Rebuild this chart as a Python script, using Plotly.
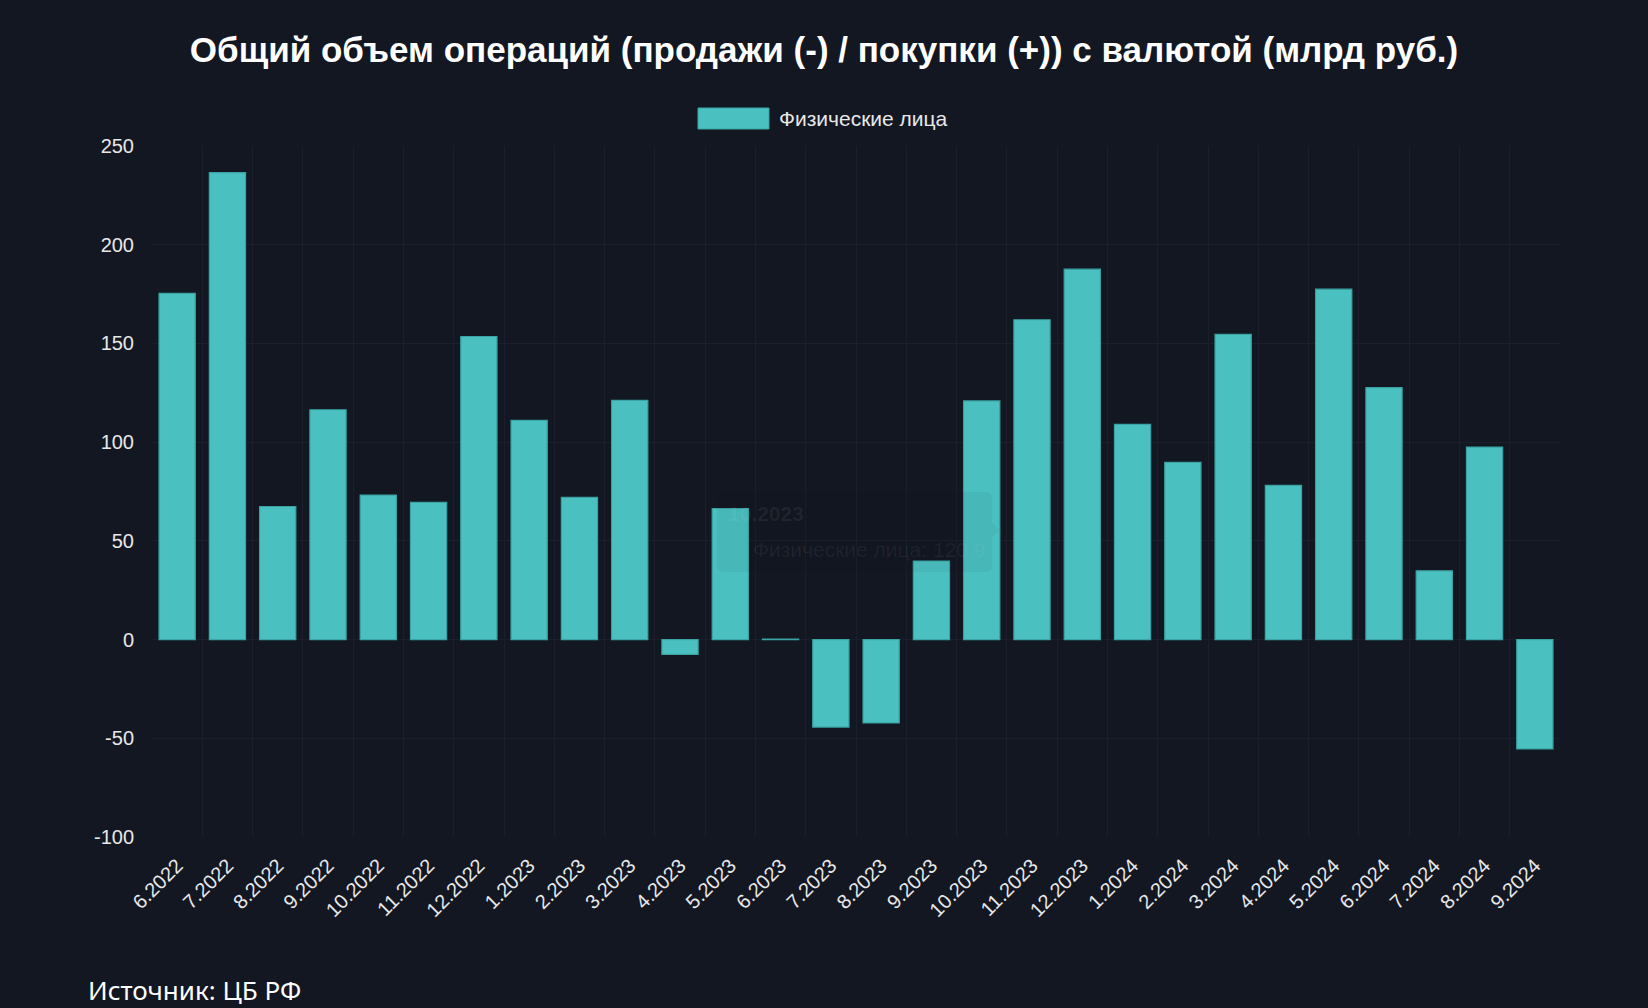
import plotly.graph_objects as go

months = ["6.2022", "7.2022", "8.2022", "9.2022", "10.2022", "11.2022", "12.2022",
          "1.2023", "2.2023", "3.2023", "4.2023", "5.2023", "6.2023", "7.2023",
          "8.2023", "9.2023", "10.2023", "11.2023", "12.2023", "1.2024", "2.2024",
          "3.2024", "4.2024", "5.2024", "6.2024", "7.2024", "8.2024", "9.2024"]
individuals = [175.4, 236.5, 67.4, 116.4, 73.2, 69.5, 153.5,
               111.0, 72.1, 121.2, -7.5, 66.4, 0.3, -44.3,
               -42.2, 39.8, 120.9, 162.0, 187.6, 109.0, 89.8,
               154.6, 78.1, 177.5, 127.6, 34.8, 97.5, -55.4]
y_ticks = [-100, -50, 0, 50, 100, 150, 200, 250]
y_tick_labels = ["-100", "-50", "0", "50", "100", "150", "200", "250"]
series_name = "Физические лица"
title_text = "Общий объем операций (продажи (-) / покупки (+)) с валютой (млрд руб.)"
source_text = "Источник: ЦБ РФ"
tip_month = "10.2023"
tip_value = 120.9

W, H = 1648, 1008
L, R, T, B = 152, 1560, 146, 837
BG = "#131722"
GRID = "#1b1f2b"
FILL = "#4bc0c0"
EDGE = "#3aa3a4"
TXT = "#e8e8e8"


def px(x):
    return (x - L) / (R - L)


def py(y):
    return (B - y) / (B - T)


fig = go.Figure()
fig.add_trace(go.Bar(
    x=months, y=individuals, name=series_name,
    marker=dict(color=FILL, line=dict(color=EDGE, width=1.2)),
    showlegend=False,
))

shapes = []
annotations = []

# legend (manual, wide box as in the reference)
shapes.append(dict(type="rect", xref="paper", yref="paper",
                   x0=px(698), x1=px(769), y0=py(129), y1=py(108),
                   fillcolor=FILL, line=dict(color=EDGE, width=1)))
annotations.append(dict(xref="paper", yref="paper", x=px(777), y=py(118.5),
                        xanchor="left", yanchor="middle", showarrow=False,
                        text=series_name,
                        font=dict(family="Liberation Sans, Arial", size=21, color=TXT)))

# faded tooltip ghost
shapes.append(dict(type="path", xref="paper", yref="paper",
                   path=(f"M {px(723)},{py(492)} L {px(986)},{py(492)} "
                         f"Q {px(992)},{py(492)} {px(992)},{py(498)} "
                         f"L {px(992)},{py(522)} L {px(1000)},{py(530)} L {px(992)},{py(538)} "
                         f"L {px(992)},{py(566)} Q {px(992)},{py(572)} {px(986)},{py(572)} "
                         f"L {px(723)},{py(572)} Q {px(717)},{py(572)} {px(717)},{py(566)} "
                         f"L {px(717)},{py(498)} Q {px(717)},{py(492)} {px(723)},{py(492)} Z"),
                   fillcolor="rgba(0,0,0,0.045)", line=dict(width=0)))
shapes.append(dict(type="rect", xref="paper", yref="paper",
                   x0=px(724), x1=px(747), y0=py(560), y1=py(540),
                   fillcolor="rgba(75,192,192,0.05)", line=dict(width=0)))
annotations.append(dict(xref="paper", yref="paper", x=px(726), y=py(513),
                        xanchor="left", yanchor="middle", showarrow=False,
                        text=f"<b>{tip_month}</b>",
                        font=dict(family="Liberation Sans, Arial", size=21,
                                  color="rgba(255,255,255,0.06)")))
annotations.append(dict(xref="paper", yref="paper", x=px(751), y=py(549),
                        xanchor="left", yanchor="middle", showarrow=False,
                        text=f"{series_name}: {tip_value}",
                        font=dict(family="Liberation Sans, Arial", size=21,
                                  color="rgba(255,255,255,0.06)")))

# source
annotations.append(dict(xref="paper", yref="paper", x=px(86), y=py(990),
                        xanchor="left", yanchor="middle", showarrow=False,
                        text=source_text,
                        font=dict(family="Noto Sans", size=26, color="#ffffff")))

fig.update_layout(
    width=W, height=H, autosize=False,
    margin=dict(l=L, r=W - R, t=T, b=H - B, pad=0),
    paper_bgcolor=BG, plot_bgcolor=BG,
    bargap=0.28,
    title=dict(text=f"<b>{title_text}</b>", x=0.5, xanchor="center",
               xref="container", yref="container", y=1 - 50 / H, yanchor="middle",
               font=dict(family="Liberation Sans, Arial", size=35, color="#ffffff")),
    xaxis=dict(type="category", tickangle=-45, tickson="boundaries",
               showgrid=True, gridcolor=GRID, gridwidth=1, ticks="",
               showline=False, zeroline=False, ticklabelstandoff=12,
               tickfont=dict(family="Liberation Sans, Arial", size=20, color=TXT)),
    yaxis=dict(range=[-100, 250], tickvals=y_ticks, ticktext=y_tick_labels,
               showgrid=True, gridcolor=GRID, gridwidth=1, zeroline=False,
               showline=False, ticks="", ticklabelstandoff=17,
               tickfont=dict(family="Liberation Sans, Arial", size=20, color=TXT)),
    shapes=shapes, annotations=annotations,
    hovermode=False,
)

fig.write_html("out.html",
               config={"displayModeBar": False},
               post_script="document.body.style.margin='0';document.body.style.overflow='hidden';"
                           "document.body.style.background='#131722';")
